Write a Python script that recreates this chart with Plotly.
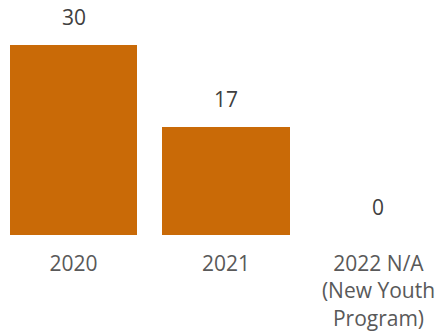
import plotly.graph_objects as go

categories = ["2020", "2021", "2022 N/A<br>(New Youth<br>Program)"]
values = [30, 17, 0]
labels = ["30", "17", "0"]

BAR_COLOR = "#C96A07"
FONT = "Open Sans"

fig = go.Figure()
fig.add_trace(go.Bar(
    x=list(range(len(categories))),
    y=values,
    width=0.833,
    marker=dict(color=BAR_COLOR, line=dict(width=0)),
    hoverinfo="skip",
))

for i, (v, t) in enumerate(zip(values, labels)):
    fig.add_annotation(
        x=i, y=v, text=t, showarrow=False,
        yanchor="bottom", yshift=12,
        font=dict(family=FONT, size=21, color="#404040"),
    )

fig.update_layout(
    width=441, height=336,
    margin=dict(l=0, r=0, t=0, b=101),
    paper_bgcolor="white", plot_bgcolor="white",
    showlegend=False,
    bargap=0,
    xaxis=dict(
        range=[-0.482, 2.410],
        tickmode="array",
        tickvals=list(range(len(categories))),
        ticktext=categories,
        showgrid=False, zeroline=False, showline=False,
        ticks="",
        ticklabelstandoff=14,
        tickfont=dict(family=FONT, size=21, color="#595959"),
    ),
    yaxis=dict(
        range=[0, 37.1],
        visible=False,
    ),
)

fig.write_html("out.html")
